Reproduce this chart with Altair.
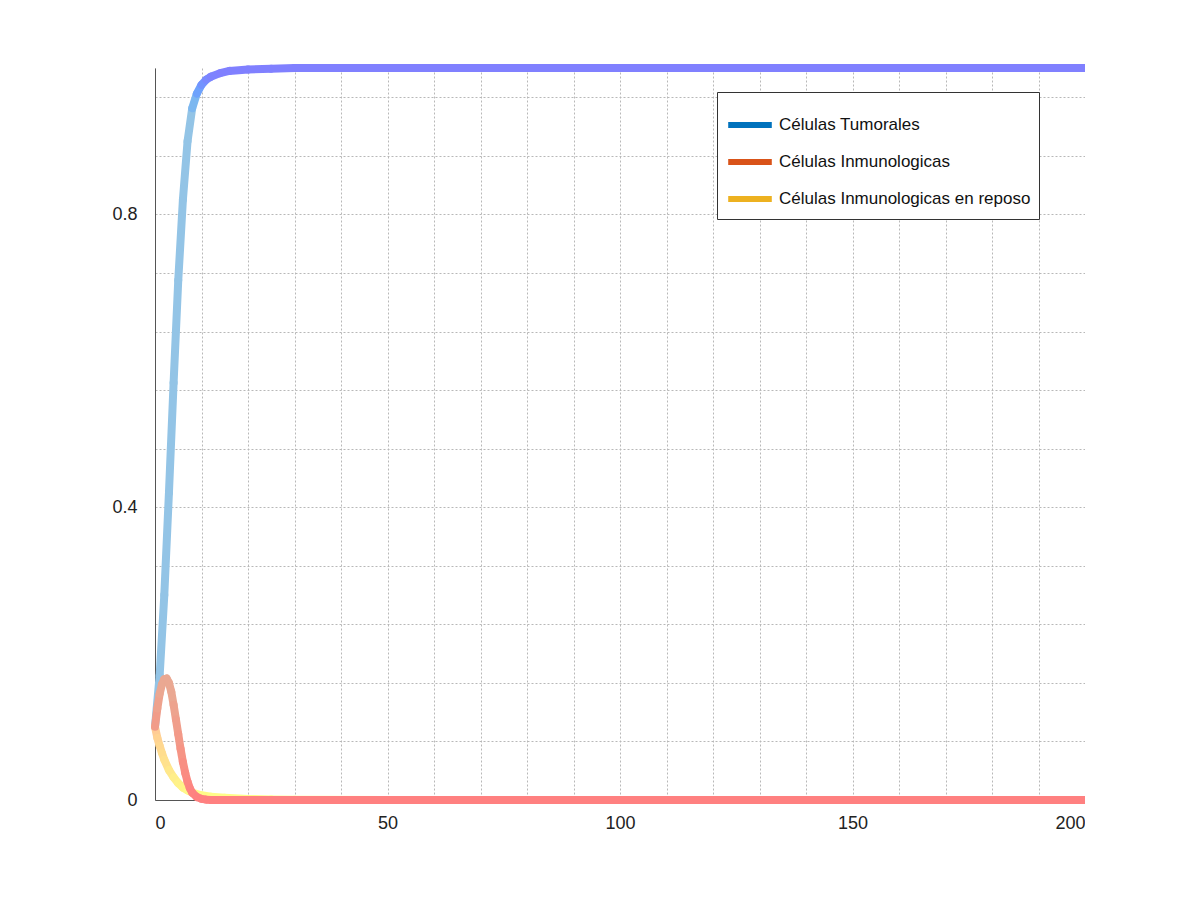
import pandas as pd
import altair as alt

# Values
t_tum = [0, 1, 2, 3, 4, 5, 6, 7, 8, 9, 10, 11, 12, 14, 16, 20, 25, 30, 50, 100, 150, 200]
tumor = [0.10, 0.17, 0.28, 0.42, 0.57, 0.71, 0.82, 0.90, 0.945, 0.965, 0.977, 0.984, 0.988, 0.993, 0.996, 0.998, 0.999, 1.0, 1.0, 1.0, 1.0, 1.0]

t_inm = [0, 0.5, 1, 1.5, 2, 2.5, 3, 3.5, 4, 4.5, 5, 5.5, 6, 6.5, 7, 7.5, 8, 9, 10, 11, 12, 20, 50, 100, 150, 200]
inmuno = [0.10, 0.125, 0.145, 0.158, 0.165, 0.166, 0.16, 0.148, 0.13, 0.11, 0.09, 0.07, 0.052, 0.037, 0.025, 0.016, 0.01, 0.004, 0.0015, 0.0005, 0.0, 0.0, 0.0, 0.0, 0.0, 0.0]

t_rep = [0, 0.5, 1, 1.5, 2, 3, 4, 5, 6, 7, 8, 10, 12, 15, 20, 25, 30, 50, 100, 150, 200]
reposo = [0.10, 0.085, 0.074, 0.064, 0.055, 0.041, 0.031, 0.023, 0.017, 0.013, 0.01, 0.0065, 0.0045, 0.003, 0.0015, 0.0008, 0.0004, 0.0, 0.0, 0.0, 0.0]

series = ['Células Tumorales', 'Células Inmunologicas', 'Células Inmunologicas en reposo']
legend_colors = ['#0072bd', '#d95319', '#edb120']

x_grid = list(range(0, 201, 10))
y_grid = [round(i * 0.04, 2) for i in range(26)]


def segments(t, v, base, lo, hi):
    d = pd.DataFrame({'t': t, 'v': v})
    d['t2'] = d['t'].shift(-1)
    d['v2'] = d['v'].shift(-1)
    # colour index: each curve gets its own slice of one shared colour scale
    d['c'] = base + ((d['v'] - lo) / (hi - lo)).clip(0, 1)
    return d.dropna()


df = pd.concat([
    segments(t_tum, tumor, 0, 0.93, 0.99),
    segments(t_rep, reposo, 2, 0.0, 0.1),
    segments(t_inm, inmuno, 4, 0.0, 0.15),
])

xs = alt.Scale(domain=[0, 200], nice=False)
ys = alt.Scale(domain=[0, 1], nice=False)

curves = alt.Chart(df).mark_rule(strokeWidth=8, strokeCap='round').encode(
    x=alt.X('t:Q', scale=xs, title=None,
            axis=alt.Axis(values=x_grid, labelExpr="datum.value % 50 == 0 ? datum.value : ''",
                          grid=True, gridDash=[2, 2], gridColor='#b8b8b8', ticks=False,
                          domainColor='#555', labelFontSize=18, labelColor='#222',
                          labelFont='Liberation Sans', labelPadding=14)),
    y=alt.Y('v:Q', scale=ys, title=None,
            axis=alt.Axis(values=y_grid,
                          labelExpr="round(datum.value*100) % 20 == 0 ? format(datum.value, '~g') : ''",
                          grid=True, gridDash=[2, 2], gridColor='#b8b8b8', ticks=False,
                          domainColor='#555', labelFontSize=18, labelColor='#222',
                          labelFont='Liberation Sans', labelPadding=18)),
    x2='t2:Q', y2='v2:Q',
    color=alt.Color('c:Q', legend=None,
                    scale=alt.Scale(domain=[0, 1, 2, 3, 4, 5],
                                    range=['#93c4e6', '#8080ff', '#ffff88', '#ffcc95',
                                           '#ff8080', '#eaa892'])),
)

leg_df = pd.DataFrame({'serie': series, 't': [0, 0, 0], 'v': [0, 0, 0]})
leg = alt.Chart(leg_df).mark_line(opacity=0).encode(
    x=alt.X('t:Q', scale=xs),
    y=alt.Y('v:Q', scale=ys),
    stroke=alt.Stroke('serie:N', sort=series,
                      scale=alt.Scale(domain=series, range=legend_colors),
                      legend=alt.Legend(title=None, orient='none', legendX=562, legendY=24,
                                        symbolType='stroke', symbolStrokeWidth=6, symbolSize=1900,
                                        symbolOpacity=1, labelFontSize=17, labelFont='Liberation Sans',
                                        labelColor='#111', rowPadding=-12, padding=8,
                                        fillColor='white', strokeColor='#333', labelLimit=400)),
)

chart = alt.layer(curves, leg).resolve_scale(color='independent').properties(
    width=930, height=732, autosize=alt.AutoSizeParams(type='none'),
    padding={'left': 147, 'top': 60, 'right': 0, 'bottom': 80},
).configure_view(stroke=None)

chart.save("out.html", embed_options={"renderer": "svg", "actions": False})
